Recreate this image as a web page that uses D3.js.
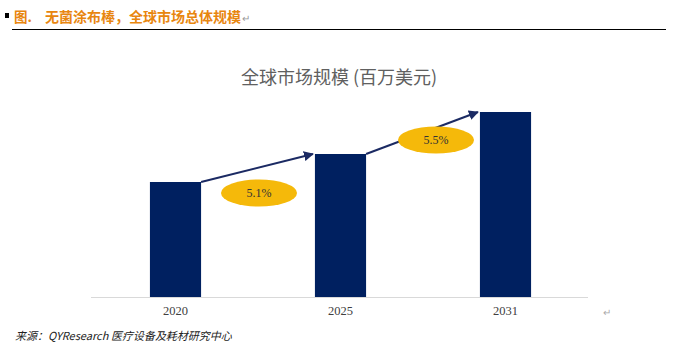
<!DOCTYPE html>
<html lang="zh">
<head>
  <meta charset="UTF-8" />
  <title>全球市场规模</title>
  <script src="https://d3js.org/d3.v7.min.js"></script>
  <style>
    html, body { margin: 0; padding: 0; background: #fff; }
    svg { display: block; }
  </style>
</head>
<body>
  <svg id="chart" width="689" height="353"></svg>

  <script>
    // data (bar heights estimated, no axis shown)
    const years = ["2020", "2025", "2031"];
    const marketSize = [115, 143, 185];
    const growthLabels = ["5.1%", "5.5%"];

    const svg = d3.select("#chart");
    const baseY = 297;

    const cjk = "'Noto Sans CJK SC', 'Noto Sans', sans-serif";
    const serif = "'Liberation Serif', 'DejaVu Serif', serif";

    // header line
    svg.append("rect")
      .attr("x", 5).attr("y", 13).attr("width", 4).attr("height", 5)
      .attr("fill", "#000");
    svg.append("text")
      .attr("x", 14).attr("y", 22)
      .attr("fill", "#E8860F")
      .style("font-family", cjk)
      .style("font-weight", "bold")
      .style("font-size", "13.5px")
      .text("图.");
    svg.append("text")
      .attr("x", 45).attr("y", 22)
      .attr("fill", "#E8860F")
      .style("font-family", cjk)
      .style("font-weight", "bold")
      .style("font-size", "14px")
      .text("无菌涂布棒，全球市场总体规模");
    svg.append("text")
      .attr("x", 242).attr("y", 22)
      .attr("fill", "#999")
      .style("font-family", cjk)
      .style("font-size", "10px")
      .text("↵");
    svg.append("line")
      .attr("x1", 12).attr("x2", 666)
      .attr("y1", 29.5).attr("y2", 29.5)
      .attr("stroke", "#000").attr("stroke-width", 1);

    // chart title
    svg.append("text")
      .attr("x", 339).attr("y", 84)
      .attr("text-anchor", "middle")
      .attr("fill", "#606060")
      .style("font-family", cjk)
      .style("font-size", "18px")
      .text("全球市场规模 (百万美元)");

    const x = d3.scaleBand()
      .domain(years)
      .range([93, 588])
      .paddingInner(0.69)
      .paddingOuter(0.345);

    const y = d3.scaleLinear()
      .domain([0, 200])
      .range([baseY, baseY - 200]);

    // baseline
    svg.append("line")
      .attr("x1", 91).attr("x2", 588)
      .attr("y1", baseY + 0.5).attr("y2", baseY + 0.5)
      .attr("stroke", "#d9d9d9").attr("stroke-width", 1);

    svg.append("g")
      .selectAll("rect")
      .data(years)
      .join("rect")
      .attr("x", d => x(d))
      .attr("y", (d, i) => y(marketSize[i]))
      .attr("width", x.bandwidth())
      .attr("height", (d, i) => baseY - y(marketSize[i]))
      .attr("fill", "#002060");

    const xAxis = svg.append("g")
      .attr("transform", `translate(0,${baseY})`)
      .call(d3.axisBottom(x).tickSize(0).tickPadding(9));
    xAxis.select(".domain").remove();
    xAxis.selectAll("text")
      .attr("fill", "#404040")
      .style("font-family", serif)
      .style("font-size", "12.5px");

    svg.append("text")
      .attr("x", 603).attr("y", 316)
      .attr("fill", "#aaa")
      .style("font-family", cjk)
      .style("font-size", "10px")
      .text("↵");

    // growth arrows
    svg.append("defs").append("marker")
      .attr("id", "arrow")
      .attr("viewBox", "0 0 10 10")
      .attr("refX", 9).attr("refY", 5)
      .attr("markerWidth", 5).attr("markerHeight", 5)
      .attr("orient", "auto")
      .append("path")
      .attr("d", "M0,0 L10,5 L0,10 z")
      .attr("fill", "#1B2A63");

    const bubbleOffset = [{ dx: 2, dy: 11 }, { dx: 14, dy: -14 }];

    const pairs = growthLabels.map((g, i) => ({
      label: g,
      x1: x(years[i]) + x.bandwidth(),
      y1: y(marketSize[i]),
      x2: x(years[i + 1]) - 2,
      y2: y(marketSize[i + 1]),
      off: bubbleOffset[i]
    }));

    svg.append("g")
      .selectAll("line")
      .data(pairs)
      .join("line")
      .attr("x1", d => d.x1).attr("y1", d => d.y1)
      .attr("x2", d => d.x2).attr("y2", d => d.y2)
      .attr("stroke", "#1B2A63")
      .attr("stroke-width", 2)
      .attr("marker-end", "url(#arrow)");

    const bubbles = svg.append("g")
      .selectAll("g")
      .data(pairs)
      .join("g")
      .attr("transform", d => `translate(${(d.x1 + d.x2) / 2 + d.off.dx},${d.y1 + d.off.dy})`);

    bubbles.append("ellipse")
      .attr("rx", 38).attr("ry", 13.5)
      .attr("fill", "#F5B90A");

    bubbles.append("text")
      .attr("text-anchor", "middle")
      .attr("dy", "0.35em")
      .attr("fill", "#333")
      .style("font-family", serif)
      .style("font-size", "12px")
      .text(d => d.label);

    // source note
    svg.append("text")
      .attr("x", 15).attr("y", 340)
      .attr("fill", "#222")
      .style("font-family", cjk)
      .style("font-style", "italic")
      .style("font-size", "11px")
      .text("来源：QYResearch 医疗设备及耗材研究中心");
  </script>
</body>
</html>
